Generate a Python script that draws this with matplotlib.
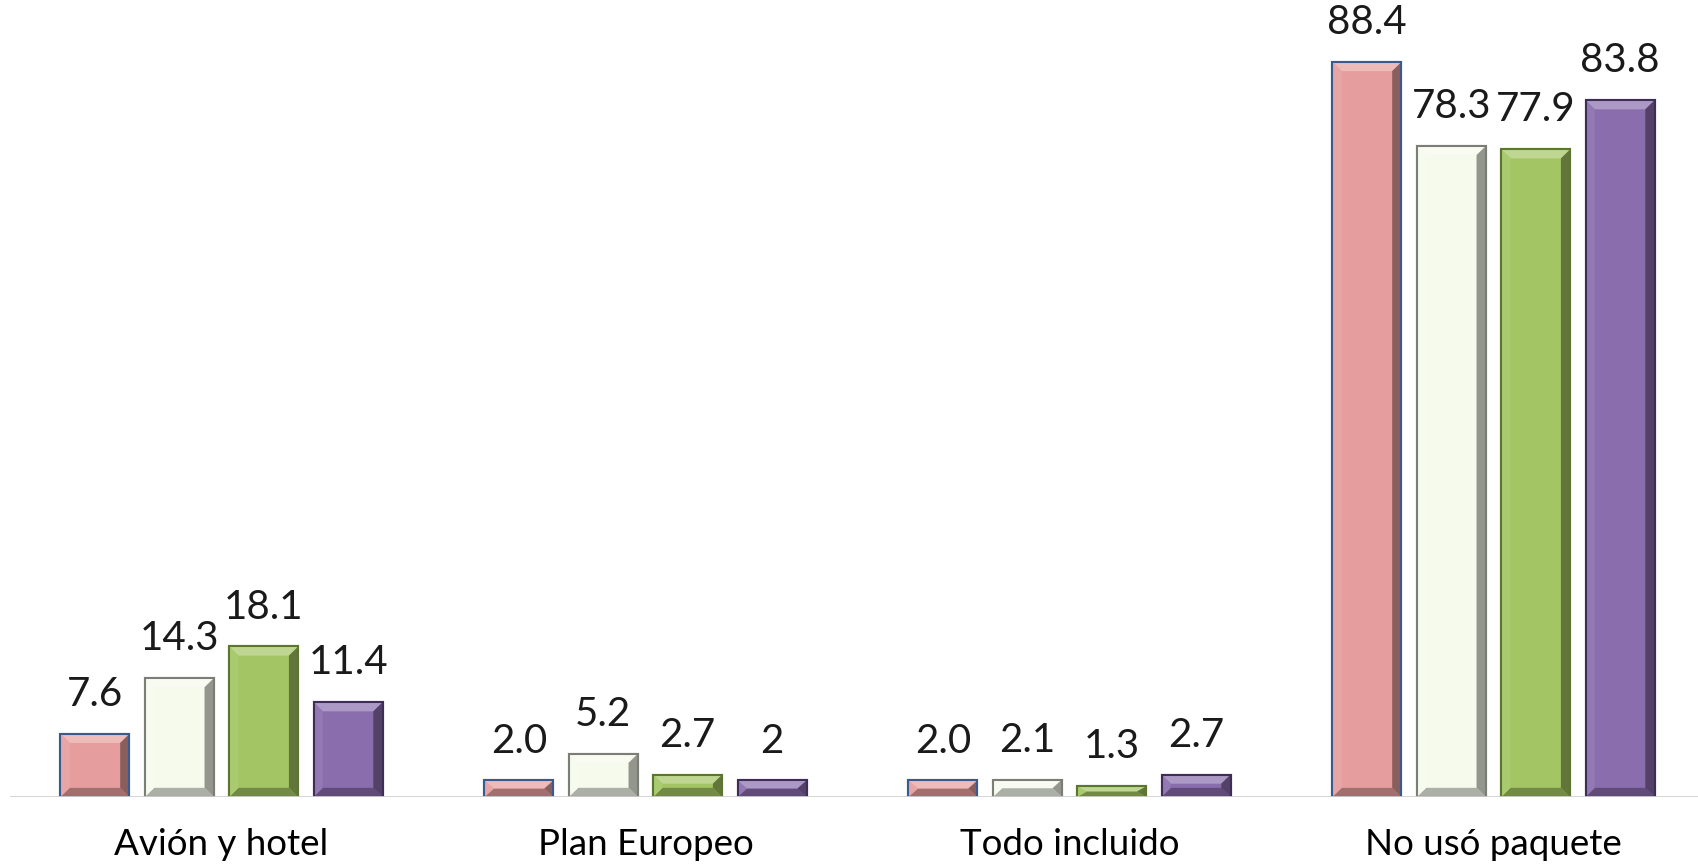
import numpy as np
import matplotlib.pyplot as plt
from matplotlib.patches import Polygon
from matplotlib.colors import to_rgb

plt.rcParams['font.family'] = ['Lato', 'DejaVu Sans']

categorias = ['Avión y hotel', 'Plan Europeo', 'Todo incluido', 'No usó paquete']
serie1 = [7.6, 2.0, 2.0, 88.4]
serie2 = [14.3, 5.2, 2.1, 78.3]
serie3 = [18.1, 2.7, 1.3, 77.9]
serie4 = [11.4, 2.0, 2.7, 83.8]
etiquetas1 = ['7.6', '2.0', '2.0', '88.4']
etiquetas2 = ['14.3', '5.2', '2.1', '78.3']
etiquetas3 = ['18.1', '2.7', '1.3', '77.9']
etiquetas4 = ['11.4', '2', '2.7', '83.8']

series = [serie1, serie2, serie3, serie4]
etiquetas = [etiquetas1, etiquetas2, etiquetas3, etiquetas4]
colores = ['#E59E9D', '#F6FAEC', '#A3C563', '#8A6DAD']
bordes = ['#3B5B8C', '#7A7E74', '#5C7530', '#3E2E57']


def mezcla(c, otro, t):
    a = np.array(to_rgb(c))
    b = np.array(to_rgb(otro))
    return tuple(a * (1 - t) + b * t)


fig = plt.figure(figsize=(16.98, 8.66), dpi=100)
ax = fig.add_axes([9.5 / 1698, 69 / 866, 1 - 9.5 / 1698, 797 / 866])

x = np.arange(len(categorias))
ancho = 0.163
paso = 0.199

for i, (vals, col, borde, labs) in enumerate(zip(series, colores, bordes, etiquetas)):
    pos = x + (i - 1.5) * paso
    barras = ax.bar(pos, vals, ancho, color=col, edgecolor=borde, linewidth=1.5, zorder=2)
    for b, lab in zip(barras, labs):
        x0 = b.get_x()
        w = b.get_width()
        h = b.get_height()
        bx = 0.022
        by = min(1.1, h / 2)
        x1 = x0 + w
        # bisel: arriba claro, abajo y derecha oscuro
        arriba = [(x0, h), (x1, h), (x1 - bx, h - by), (x0 + bx, h - by)]
        abajo = [(x0, 0), (x1, 0), (x1 - bx, by), (x0 + bx, by)]
        izq = [(x0, 0), (x0, h), (x0 + bx, h - by), (x0 + bx, by)]
        der = [(x1, 0), (x1, h), (x1 - bx, h - by), (x1 - bx, by)]
        ax.add_patch(Polygon(arriba, closed=True, color=mezcla(col, 'white', 0.3), lw=0, zorder=3))
        ax.add_patch(Polygon(abajo, closed=True, color=mezcla(col, 'black', 0.3), lw=0, zorder=3))
        ax.add_patch(Polygon(izq, closed=True, color=mezcla(col, 'white', 0.08), lw=0, zorder=3))
        ax.add_patch(Polygon(der, closed=True, color=mezcla(col, 'black', 0.4), lw=0, zorder=3))
        ax.add_patch(plt.Rectangle((x0, 0), w, h, fill=False, edgecolor=borde, lw=1.5, zorder=4))
        ax.annotate(lab, (x0 + w / 2, h), xytext=(0, 15), textcoords='offset points',
                    ha='center', va='bottom', fontsize=29, color='#1a1a1a')

ax.set_xlim(-0.5, (1698 - 221.5) / 424)
ax.set_ylim(0, 797 / 8.315)
ax.axhline(0, color='#D0D0D0', lw=2, zorder=5)

ax.set_xticks(x)
ax.set_xticklabels(categorias, fontsize=26.5)
ax.tick_params(axis='x', length=0, pad=22)
ax.set_yticks([])
for s in ax.spines.values():
    s.set_visible(False)

fig.savefig('out.png', dpi=100)
